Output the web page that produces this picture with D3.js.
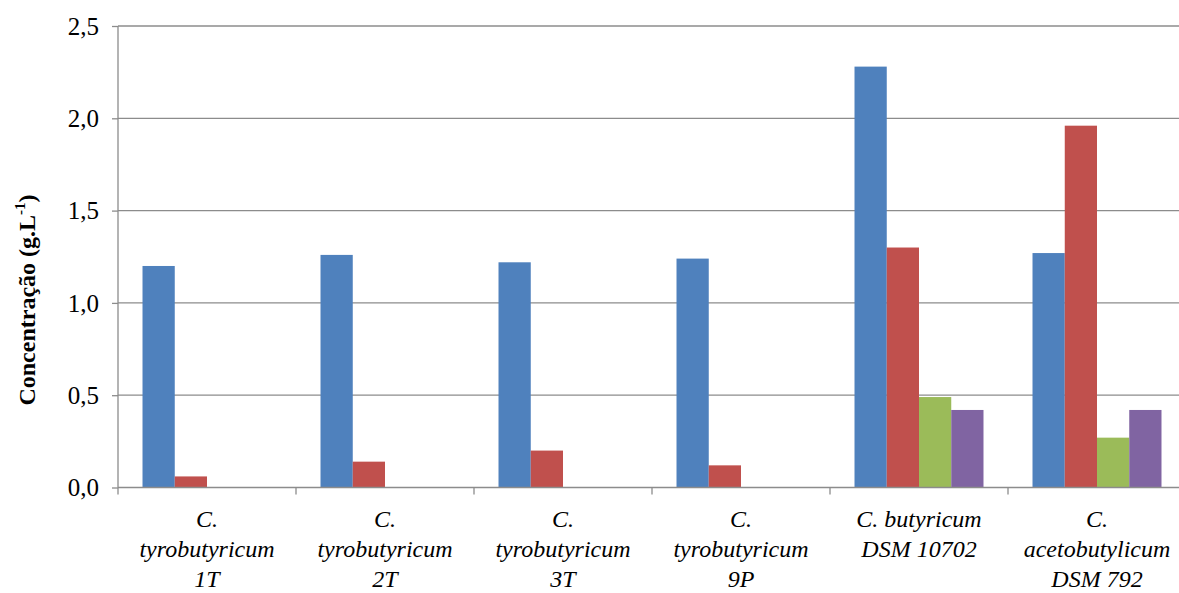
<!DOCTYPE html>
<html><head><meta charset="utf-8">
<script src="https://cdn.jsdelivr.net/npm/d3@7"></script>
</head><body>
<svg id="c" width="1179" height="593"></svg>
<script>
const categories = [
  ["C.", "tyrobutyricum", "1T"],
  ["C.", "tyrobutyricum", "2T"],
  ["C.", "tyrobutyricum", "3T"],
  ["C.", "tyrobutyricum", "9P"],
  ["C. butyricum", "DSM 10702"],
  ["C.", "acetobutylicum", "DSM 792"]
];
const series1 = [1.20, 1.26, 1.22, 1.24, 2.28, 1.27];
const series2 = [0.06, 0.14, 0.20, 0.12, 1.30, 1.96];
const series3 = [0, 0, 0, 0, 0.49, 0.27];
const series4 = [0, 0, 0, 0, 0.42, 0.42];
const seriesList = [series1, series2, series3, series4];
const colors = ["#4f81bd", "#c0504d", "#9bbb59", "#8064a2"];
const yTicks = [0, 0.5, 1.0, 1.5, 2.0, 2.5];

d3.select("body").style("margin", "0px").style("overflow", "hidden");
const fontNames = ["Liberation Serif"];
const FONT = `"${fontNames[0]}", serif`;
const svg = d3.select("#c").style("display", "block");
const mLeft = 118, mTop = 26, mBottom = 487.5, catW = 178;
const mRight = mLeft + catW * categories.length;
const x = d3.scaleBand().domain(d3.range(categories.length)).range([mLeft, mRight]).paddingInner(0).paddingOuter(0);
const x1 = d3.scaleBand().domain(d3.range(4)).range([0, x.bandwidth()]).paddingOuter(0.76).paddingInner(0);
const y = d3.scaleLinear().domain([0, 2.5]).range([mBottom, mTop]);
const fmt = d => d3.format(".1f")(d).replace(".", ",");

// gridlines
svg.append("g").selectAll("line").data(yTicks.filter(d => d > 0)).join("line")
  .attr("x1", mLeft).attr("x2", mRight).attr("y1", d => y(d)).attr("y2", d => y(d))
  .attr("stroke", "#8c8c8c").attr("stroke-width", 1.3);

// bars
const groups = svg.append("g").selectAll("g").data(categories).join("g")
  .attr("transform", (d, i) => `translate(${x(i)},0)`);
groups.each(function(c, i) {
  d3.select(this).selectAll("rect").data(seriesList.map((s, k) => ({k, v: s[i]})).filter(d => d.v > 0)).join("rect")
    .attr("x", d => x1(d.k)).attr("width", x1.bandwidth())
    .attr("y", d => y(d.v)).attr("height", d => y(0) - y(d.v))
    .attr("fill", d => colors[d.k]);
});

// y axis
const ya = svg.append("g").attr("transform", `translate(${mLeft},0)`)
  .call(d3.axisLeft(y).tickValues(yTicks).tickFormat(fmt).tickSize(6).tickPadding(13));
ya.attr("font-family", null).attr("font-size", null);
ya.select(".domain").attr("stroke", "#8c8c8c").attr("stroke-width", 1.3).attr("d", `M0,${mTop}V${mBottom}`);
ya.selectAll(".tick line").attr("stroke", "#8c8c8c").attr("stroke-width", 1.3);
ya.selectAll(".tick text").style("font-family", FONT).attr("font-size", 25).attr("fill", "#000").attr("dy", "0.33em");

// x axis
const xa = svg.append("g").attr("transform", `translate(0,${mBottom})`);
xa.append("line").attr("x1", mLeft).attr("x2", mRight).attr("stroke", "#8c8c8c").attr("stroke-width", 1.3);
xa.selectAll(".tk").data(d3.range(categories.length + 1)).join("line").attr("class", "tk")
  .attr("x1", i => mLeft + i * catW).attr("x2", i => mLeft + i * catW).attr("y1", 0).attr("y2", 7)
  .attr("stroke", "#8c8c8c").attr("stroke-width", 1.3);
const lab = xa.selectAll(".lab").data(categories).join("text").attr("class", "lab")
  .attr("x", (d, i) => x(i) + x.bandwidth() / 2).attr("y", 39.5)
  .attr("text-anchor", "middle")
  .style("font-family", FONT).attr("font-style", "italic").attr("font-size", 24).attr("fill", "#000");
lab.each(function(d) {
  const cx = d3.select(this).attr("x");
  d3.select(this).selectAll("tspan").data(d).join("tspan")
    .attr("x", cx).attr("dy", (t, j) => j === 0 ? 0 : 30).text(t => t);
});

// y title
const t = svg.append("text").attr("transform", "translate(35,300) rotate(-90)")
  .attr("text-anchor", "middle")
  .style("font-family", FONT).attr("font-weight", "bold").attr("font-size", 24).attr("fill", "#000");
t.append("tspan").text("Concentração (g.L");
t.append("tspan").attr("dy", -10).attr("font-size", 15).text("-1");
t.append("tspan").attr("dy", 10).text(")");
</script>
</body></html>
